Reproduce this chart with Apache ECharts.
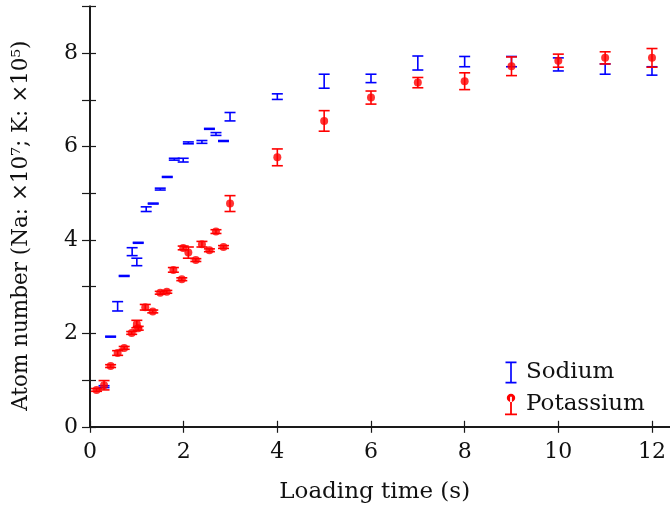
<!DOCTYPE html>
<html><head><meta charset="utf-8">
<script src="https://cdn.jsdelivr.net/npm/echarts@6/dist/echarts.min.js"></script>
<style>html,body{margin:0;padding:0;background:#fff}#c{width:670px;height:509px}</style>
</head><body><div id="c"></div>
<script>
// Sodium: [loading time (s), atom number (x1e7), error]
const sodium = [
  [0.30,0.86,0.02],[0.44,1.93,0.01],[0.59,2.58,0.10],[0.73,3.23,0.01],[0.90,3.75,0.085],
  [1.00,3.53,0.08],[1.03,3.94,0.01],[1.20,4.66,0.05],[1.35,4.78,0.01],[1.50,5.09,0.02],
  [1.65,5.35,0.01],[1.80,5.73,0.02],[1.99,5.71,0.04],[2.10,6.08,0.02],[2.39,6.10,0.03],
  [2.55,6.38,0.01],[2.69,6.27,0.03],[2.85,6.12,0.01],[2.99,6.64,0.09],
  [4,7.07,0.06],[5,7.40,0.15],[6,7.46,0.09],[7,7.79,0.15],[8,7.82,0.11],
  [9,7.82,0.11],[10,7.76,0.14],[11,7.66,0.11],[12,7.62,0.09]
];
// Potassium: [loading time (s), atom number (x1e5), error]
const potassium = [
  [0.14,0.79,0.03],[0.30,0.89,0.10],[0.44,1.30,0.03],[0.59,1.58,0.05],[0.73,1.69,0.03],
  [0.89,2.01,0.03],[1.00,2.20,0.08],[1.03,2.11,0.04],[1.18,2.56,0.06],[1.34,2.47,0.03],
  [1.50,2.87,0.03],[1.64,2.89,0.03],[1.78,3.36,0.05],[1.96,3.16,0.03],[1.99,3.83,0.04],
  [2.10,3.73,0.12],[2.26,3.57,0.03],[2.39,3.91,0.06],[2.55,3.78,0.03],[2.69,4.18,0.04],
  [2.85,3.85,0.03],[2.99,4.78,0.17],
  [4,5.77,0.18],[5,6.55,0.22],[6,7.05,0.14],[7,7.37,0.11],[8,7.40,0.18],
  [9,7.72,0.20],[10,7.84,0.14],[11,7.90,0.13],[12,7.90,0.20]
];
const xTickLabels = [0,2,4,6,8,10,12];
const yTickLabels = [0,2,4,6,8];

const FONT = 'DejaVu Serif';
const BLUE = '#0000ff', RED = '#ff0000', AX = '#1a1a1a';

function errRender(color, cap) {
  return function (params, api) {
    const x = api.value(0), y = api.value(1), e = api.value(2);
    const t = api.coord([x, y + e]), b = api.coord([x, y - e]);
    const h = cap / 2;
    const st = {stroke: color, lineWidth: 1.6, fill: null};
    return {type: 'group', children: [
      {type: 'line', shape: {x1: t[0], y1: t[1], x2: b[0], y2: b[1]}, style: st},
      {type: 'line', shape: {x1: t[0]-h, y1: t[1], x2: t[0]+h, y2: t[1]}, style: st},
      {type: 'line', shape: {x1: b[0]-h, y1: b[1], x2: b[0]+h, y2: b[1]}, style: st}
    ]};
  };
}

const chart = echarts.init(document.getElementById('c'), null, {renderer: 'canvas'});
function tick(len) { return {show: true, inside: true, length: len, lineStyle: {color: AX, width: 1.2}}; }
const axLine = {show: true, lineStyle: {color: AX, width: 1.8}};

chart.setOption({
  animation: false,
  grid: {left: 90, top: 6.5, width: 585.4, height: 420.3, containLabel: false, outerBoundsMode: 'none'},
  xAxis: [
    {type: 'value', min: 0, max: 12.5, interval: 2, splitLine: {show: false}, position: 'bottom',
      axisLine: axLine, axisTick: tick(6),
      name: 'Loading time (s)', nameLocation: 'middle', nameGap: 54,
      nameTextStyle: {fontFamily: FONT, fontSize: 23, color: '#111', padding: [0, 16, 0, 0]},
      axisLabel: {fontFamily: FONT, fontSize: 22, color: '#111', margin: 14,
        formatter: v => xTickLabels.indexOf(v) >= 0 ? String(v) : ''}},
    {type: 'value', min: 0, max: 12.5, interval: 2, splitLine: {show: false}, position: 'top',
      axisLine: axLine, axisTick: tick(6), axisLabel: {show: false}}
  ],
  yAxis: [
    {type: 'value', min: 0, max: 9, interval: 1, splitLine: {show: false}, position: 'left',
      axisLine: axLine, axisTick: tick(6),
      name: 'Atom number (Na: ×10⁷; K: ×10⁵)', nameLocation: 'middle', nameGap: 58,
      nameTextStyle: {fontFamily: FONT, fontSize: 21.5, color: '#111', padding: [0, 18, 0, 0]},
      axisLabel: {fontFamily: FONT, fontSize: 22, color: '#111', margin: 12,
        formatter: v => yTickLabels.indexOf(v) >= 0 ? String(v) : ''}},
    {type: 'value', min: 0, max: 9, interval: 1, splitLine: {show: false}, position: 'right',
      axisLine: axLine, axisTick: tick(8), axisLabel: {show: false}}
  ],
  legend: {
    orient: 'vertical', left: 500, top: 356, itemGap: 9, itemWidth: 12, itemHeight: 22,
    textStyle: {fontFamily: FONT, fontSize: 23, color: '#111', padding: [0, 0, 0, 4]},
    data: [
      {name: 'Sodium', icon: 'path://M0,0h10v1.5h-4.25v17h4.25v1.5h-10v-1.5h4.25v-17h-4.25z',
        itemStyle: {color: BLUE}},
      {name: 'Potassium', icon: 'path://M5,1.5a3.5,3.5 0 1,0 0.01,0z M4.25,4h1.5v14h-1.5z M0,18h10v1.5h-10z',
        itemStyle: {color: RED}}
    ]
  },
  series: [
    {name: 'Sodium', type: 'custom', renderItem: errRender(BLUE, 11), data: sodium,
      encode: {x: 0, y: 1}, itemStyle: {color: BLUE}, z: 3},
    {name: 'Potassium', type: 'custom', renderItem: errRender(RED, 11), data: potassium,
      encode: {x: 0, y: 1}, itemStyle: {color: RED}, z: 4},
    {name: 'Potassium', type: 'scatter', data: potassium.map(d => [d[0], d[1]]),
      symbol: 'circle', symbolSize: 8, itemStyle: {color: RED}, z: 5}
  ]
});
</script></body></html>
